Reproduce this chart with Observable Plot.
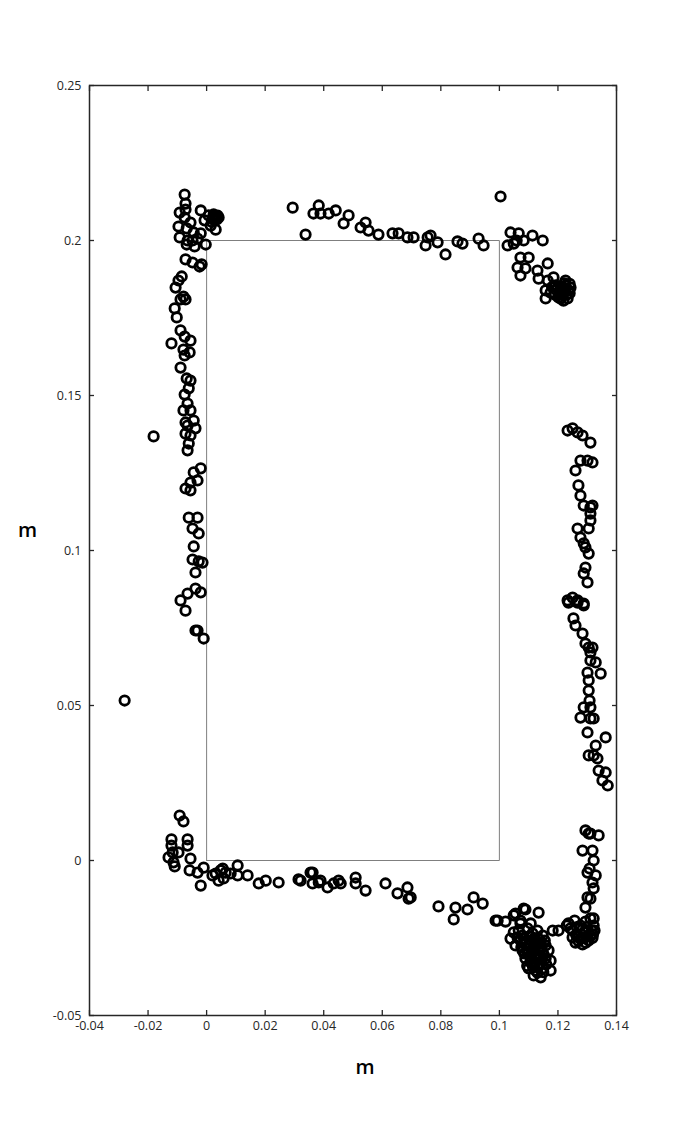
<!DOCTYPE html>
<html>
<head>
<meta charset="utf-8">
<script src="https://cdn.jsdelivr.net/npm/d3@7"></script>
<script src="https://cdn.jsdelivr.net/npm/@observablehq/plot@0.6"></script>
<style>
  html, body { margin: 0; padding: 0; background: #fff; }
  #chart svg { display: block; }
</style>
</head>
<body>
<div id="chart"></div>
<script>
// Tick values and labels
const xTicks = [-0.04, -0.02, 0, 0.02, 0.04, 0.06, 0.08, 0.1, 0.12, 0.14];
const xTickLabels = ["-0.04", "-0.02", "0", "0.02", "0.04", "0.06", "0.08", "0.1", "0.12", "0.14"];
const yTicks = [-0.05, 0, 0.05, 0.1, 0.15, 0.2, 0.25];
const yTickLabels = ["-0.05", "0", "0.05", "0.1", "0.15", "0.2", "0.25"];

// Reference rectangle corners (m)
const rectX = [0, 0.1, 0.1, 0, 0];
const rectY = [0, 0, 0.2, 0.2, 0];

// Measured points [x, y] in metres
const leftEdge = [
  [-0.0075,0.2148],[-0.0072,0.2119],[-0.0072,0.2100],[-0.0092,0.2090],[-0.0075,0.2074],[-0.0055,0.2058],
  [-0.0096,0.2045],[-0.0068,0.2039],[-0.0092,0.2010],[-0.0065,0.2000],[-0.0044,0.2026],[-0.0020,0.2097],
  [-0.0007,0.2065],[0.0007,0.2081],[0.0024,0.2084],[0.0034,0.2077],[0.0027,0.2065],[0.0014,0.2048],
  [-0.0020,0.2023],[-0.0031,0.2006],[-0.0048,0.2000],[-0.0068,0.1987],[0.0031,0.2035],[0.0020,0.2071],
  [0.0041,0.2074],[-0.0003,0.1987],[-0.0041,0.1981],[-0.0017,0.1923],[-0.0024,0.1916],[-0.0072,0.1939],
  [0.0030,0.2075],[0.0025,0.2078],[0.0035,0.2068],[0.0038,0.2080],[0.0018,0.2060],
  [-0.0048,0.1929],[-0.0085,0.1884],[-0.0096,0.1871],[-0.0106,0.1848],[-0.0079,0.1819],[-0.0089,0.1810],
  [-0.0072,0.1810],[-0.0109,0.1781],[-0.0102,0.1752],[-0.0089,0.1710],[-0.0075,0.1690],[-0.0055,0.1677],
  [-0.0079,0.1648],[-0.0058,0.1639],[-0.0075,0.1629],[-0.0089,0.1590],[-0.0068,0.1555],[-0.0055,0.1548],
  [-0.0061,0.1523],[-0.0075,0.1503],[-0.0120,0.1668],[-0.0181,0.1368],
  [-0.0065,0.1474],[-0.0079,0.1452],[-0.0055,0.1452],[-0.0072,0.1413],[-0.0044,0.1419],[-0.0065,0.1403],
  [-0.0038,0.1394],[-0.0072,0.1377],[-0.0055,0.1371],[-0.0061,0.1345],[-0.0065,0.1323],[-0.0020,0.1265],
  [-0.0044,0.1252],[-0.0031,0.1226],[-0.0055,0.1219],[-0.0072,0.1200],[-0.0055,0.1194],[-0.0061,0.1106],
  [-0.0031,0.1106],[-0.0048,0.1071],[-0.0027,0.1055],[-0.0044,0.1013],[-0.0048,0.0971],[-0.0027,0.0965],
  [-0.0014,0.0961],[-0.0038,0.0929],[-0.0089,0.0839],[-0.0065,0.0861],[-0.0038,0.0877],[-0.0020,0.0865],
  [-0.0072,0.0806],[-0.0038,0.0742],[-0.0031,0.0742],[-0.0010,0.0716],[-0.0280,0.0516]
];
const bottomEdge = [
  [-0.0092,0.0145],[-0.0079,0.0126],[-0.0120,0.0068],[-0.0065,0.0068],[-0.0120,0.0048],[-0.0065,0.0048],
  [-0.0116,0.0026],[-0.0096,0.0026],[-0.0130,0.0010],[-0.0113,-0.0006],[-0.0109,-0.0019],[-0.0055,0.0006],
  [-0.0058,-0.0032],[-0.0031,-0.0039],[-0.0010,-0.0023],[-0.0020,-0.0081],[0.0031,-0.0042],[0.0048,-0.0032],
  [0.0065,-0.0039],[0.0058,-0.0058],[0.0082,-0.0042],[0.0106,-0.0016],[0.0106,-0.0048],[0.0140,-0.0048],
  [0.0178,-0.0074],[0.0202,-0.0065],[0.0246,-0.0071],[0.0314,-0.0061],[0.0355,-0.0039],[0.0362,-0.0074],
  [0.0383,-0.0071],[0.0020,-0.0048],[0.0041,-0.0065],[0.0055,-0.0026],
  [0.0321,-0.0065],[0.0362,-0.0039],[0.0389,-0.0065],[0.0413,-0.0087],[0.0434,-0.0074],[0.0451,-0.0065],
  [0.0458,-0.0074],[0.0509,-0.0055],[0.0509,-0.0074],[0.0543,-0.0097],[0.0611,-0.0074],[0.0652,-0.0106],
  [0.0686,-0.0087],[0.0690,-0.0123],[0.0697,-0.0119],[0.0792,-0.0148],[0.0850,-0.0152],[0.0844,-0.0190],
  [0.0891,-0.0158],[0.0912,-0.0119],[0.0943,-0.0139],[0.0987,-0.0194],[0.1021,-0.0197],[0.1049,-0.0177],
  [0.1089,-0.0158],[0.1072,-0.0194],
  [0.0994,-0.0194],[0.1055,-0.0171],[0.1083,-0.0155],[0.1134,-0.0168],[0.1182,-0.0226],[0.1202,-0.0226],
  [0.1141,-0.0377],[0.1175,-0.0355],[0.1072,-0.0203],[0.1049,-0.0232],[0.1107,-0.0203],
  [0.1066,-0.0226],[0.1079,-0.0242],[0.1096,-0.0219],[0.1113,-0.0235],[0.1130,-0.0226],[0.1148,-0.0242],
  [0.1072,-0.0258],[0.1089,-0.0268],[0.1107,-0.0258],[0.1124,-0.0274],[0.1141,-0.0265],[0.1158,-0.0274],
  [0.1079,-0.0290],[0.1096,-0.0300],[0.1113,-0.0290],[0.1130,-0.0306],[0.1148,-0.0297],[0.1089,-0.0316],
  [0.1107,-0.0329],[0.1124,-0.0316],[0.1141,-0.0332],[0.1158,-0.0316],[0.1100,-0.0348],[0.1124,-0.0355],
  [0.1148,-0.0348],[0.1117,-0.0371],[0.1168,-0.0290],[0.1055,-0.0274],[0.1038,-0.0252],[0.1175,-0.0323],
  [0.1062,-0.0248],[0.1085,-0.0252],[0.1103,-0.0245],[0.1120,-0.0250],[0.1138,-0.0255],[0.1155,-0.0258],
  [0.1075,-0.0280],[0.1095,-0.0285],[0.1115,-0.0280],[0.1135,-0.0285],[0.1152,-0.0305],[0.1085,-0.0300],
  [0.1105,-0.0310],[0.1125,-0.0300],[0.1140,-0.0315],[0.1160,-0.0335],[0.1095,-0.0340],[0.1115,-0.0345],
  [0.1135,-0.0340],[0.1150,-0.0360],[0.1120,-0.0330],[0.1130,-0.0362],[0.1100,-0.0275],[0.1120,-0.0268],
  [0.1145,-0.0278],[0.1110,-0.0300],[0.1130,-0.0320],
  [0.1236,-0.0203],[0.1257,-0.0194],[0.1277,-0.0210],[0.1294,-0.0197],[0.1311,-0.0187],[0.1322,-0.0210],
  [0.1250,-0.0226],[0.1270,-0.0242],[0.1291,-0.0232],[0.1311,-0.0242],[0.1260,-0.0265],[0.1284,-0.0271],
  [0.1305,-0.0258],[0.1325,-0.0226],[0.1230,-0.0210],[0.1277,-0.0252],[0.1243,-0.0219],
  [0.1265,-0.0215],[0.1285,-0.0220],[0.1300,-0.0215],[0.1315,-0.0225],[0.1262,-0.0240],[0.1282,-0.0250],
  [0.1300,-0.0245],[0.1318,-0.0250],[0.1270,-0.0260],[0.1295,-0.0265],[0.1320,-0.0238],[0.1250,-0.0248]
];
const rightEdge = [
  [0.1294,0.0097],[0.1311,0.0087],[0.1339,0.0081],[0.1284,0.0032],[0.1318,0.0032],[0.1322,0.0000],
  [0.1308,-0.0026],[0.1301,-0.0039],[0.1329,-0.0048],[0.1318,-0.0071],[0.1322,-0.0090],[0.1301,-0.0119],
  [0.1311,-0.0123],[0.1294,-0.0152],[0.1322,-0.0187],[0.1305,0.0087],
  [0.1236,0.0832],[0.1267,0.0832],[0.1288,0.0823],[0.1253,0.0781],[0.1260,0.0758],[0.1284,0.0732],
  [0.1294,0.0700],[0.1305,0.0687],[0.1318,0.0687],[0.1311,0.0645],[0.1329,0.0639],[0.1301,0.0606],
  [0.1346,0.0603],[0.1305,0.0581],[0.1305,0.0548],[0.1308,0.0516],[0.1288,0.0494],[0.1311,0.0494],
  [0.1277,0.0461],[0.1311,0.0458],[0.1322,0.0458],[0.1301,0.0413],[0.1363,0.0397],[0.1329,0.0371],
  [0.1305,0.0339],[0.1322,0.0339],[0.1335,0.0329],[0.1339,0.0290],[0.1363,0.0284],[0.1352,0.0258],
  [0.1370,0.0242],[0.1311,0.0671],
  [0.1233,0.1387],[0.1250,0.1394],[0.1267,0.1381],[0.1284,0.1371],[0.1311,0.1348],[0.1277,0.1290],
  [0.1301,0.1290],[0.1318,0.1284],[0.1260,0.1258],[0.1270,0.1210],[0.1277,0.1177],[0.1288,0.1145],
  [0.1311,0.1139],[0.1311,0.1119],[0.1311,0.1097],[0.1267,0.1071],[0.1305,0.1071],[0.1277,0.1042],
  [0.1288,0.1023],[0.1294,0.1010],[0.1305,0.0990],[0.1294,0.0945],[0.1288,0.0926],[0.1301,0.0897],
  [0.1250,0.0848],[0.1267,0.0839],[0.1233,0.0839],[0.1288,0.0829],[0.1318,0.1145]
];
const topEdge = [
  [0.0294,0.2106],[0.0338,0.2019],[0.0383,0.2113],[0.0365,0.2087],[0.0389,0.2087],[0.0417,0.2087],
  [0.0441,0.2097],[0.0468,0.2055],[0.0485,0.2081],[0.0526,0.2042],[0.0543,0.2058],[0.0553,0.2032],
  [0.0587,0.2019],[0.0635,0.2023],[0.0656,0.2023],[0.0686,0.2010],[0.0707,0.2010],[0.0755,0.2010],
  [0.0765,0.2016],[0.0748,0.1984],[0.0789,0.1994],[0.0816,0.1955],[0.0857,0.1997],[0.0874,0.1990],
  [0.0929,0.2006],[0.0946,0.1984],[0.1004,0.2142],[0.1038,0.2026],[0.1066,0.2023],[0.1028,0.1984],
  [0.1049,0.1990],[0.1083,0.2000],[0.1113,0.2016],[0.1148,0.2000],[0.1072,0.1945],[0.1100,0.1945],
  [0.1062,0.1913],[0.1089,0.1910],[0.1130,0.1903],[0.1165,0.1926],[0.1072,0.1887],[0.1134,0.1877],
  [0.1165,0.1871],[0.1158,0.1813],[0.1185,0.1881],[0.1199,0.1848],[0.1209,0.1829],[0.1059,0.2000],
  [0.1192,0.1855],[0.1209,0.1845],[0.1226,0.1855],[0.1236,0.1839],[0.1216,0.1829],[0.1233,0.1813],
  [0.1175,0.1832],[0.1202,0.1816],[0.1158,0.1839],[0.1226,0.1871],[0.1243,0.1848],[0.1219,0.1806],
  [0.1195,0.1840],[0.1215,0.1850],[0.1225,0.1835],[0.1205,0.1825],[0.1230,0.1825],[0.1240,0.1830],
  [0.1180,0.1850],[0.1190,0.1825],[0.1210,0.1812],[0.1240,0.1860],[0.1222,0.1862]
];

const points = [...leftEdge, ...bottomEdge, ...rightEdge, ...topEdge].map(([x, y]) => ({x, y}));
const rect = rectX.map((x, i) => ({x, y: rectY[i]}));

const axisColor = "#262626";
const font = "'Open Sans', 'Noto Sans', sans-serif";

const chart = Plot.plot({
  width: 681,
  height: 1140,
  marginLeft: 89,
  marginRight: 65,
  marginTop: 85,
  marginBottom: 125,
  style: {fontFamily: font, fontSize: "12.5px", color: axisColor, background: "#fff"},
  x: {domain: [-0.04, 0.14]},
  y: {domain: [-0.05, 0.25]},
  marks: [
    Plot.line(rect, {x: "x", y: "y", stroke: "#7f7f7f", strokeWidth: 1}),
    Plot.dot(points, {x: "x", y: "y", r: 4.7, stroke: "#000", strokeWidth: 2.8, fill: "none"}),
    // tick labels
    Plot.axisX({anchor: "bottom", ticks: xTicks, tickSize: 0, tickPadding: 6, tickFormat: (d, i) => xTickLabels[i], label: null, fill: axisColor, fontSize: 12.5}),
    Plot.axisY({anchor: "left", ticks: yTicks, tickSize: 0, tickPadding: 8, tickFormat: (d, i) => yTickLabels[i], label: null, fill: axisColor, fontSize: 12.5}),
    // inward ticks on all four sides
    Plot.axisX({anchor: "bottom", ticks: xTicks, tickSize: 5, dy: -5, text: null, label: null, stroke: axisColor, strokeWidth: 1.3}),
    Plot.axisX({anchor: "top", ticks: xTicks, tickSize: 5, dy: 5, text: null, label: null, stroke: axisColor, strokeWidth: 1.3}),
    Plot.axisY({anchor: "left", ticks: yTicks, tickSize: 5, dx: 5, text: null, label: null, stroke: axisColor, strokeWidth: 1.3}),
    Plot.axisY({anchor: "right", ticks: yTicks, tickSize: 5, dx: -5, text: null, label: null, stroke: axisColor, strokeWidth: 1.3}),
    Plot.frame({stroke: axisColor, strokeWidth: 1.5}),
    // axis titles
    Plot.text(["m"], {frameAnchor: "bottom", dx: 12, dy: 52, text: d => d, fontSize: 20, fontWeight: 600, fill: "#000", lineAnchor: "middle"}),
    Plot.text(["m"], {frameAnchor: "left", dx: -62, dy: -20, text: d => d, fontSize: 20, fontWeight: 600, fill: "#000", textAnchor: "middle"})
  ]
});

document.getElementById("chart").appendChild(chart);
</script>
</body>
</html>
